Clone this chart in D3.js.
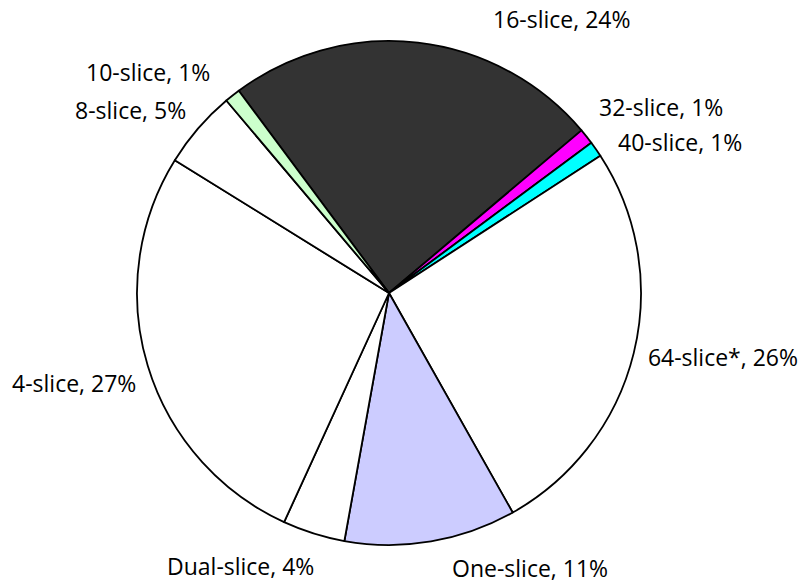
<!DOCTYPE html>
<html><head><meta charset="utf-8">
<script src="https://cdn.jsdelivr.net/npm/d3@7"></script>
<style>body{margin:0;background:#fff}svg{display:block}</style>
</head><body>
<svg id="chart" width="801" height="584"></svg>
<script>
const categories = ["16-slice","32-slice","40-slice","64-slice*","One-slice","Dual-slice","4-slice","8-slice","10-slice"];
const values = [24,1,1,26,11,4,27,5,1];
const colors = ["#333333","#FF00FF","#00FFFF","#FFFFFF","#CCCCFF","#FFFFFF","#FFFFFF","#FFFFFF","#CCFFCC"];
// label anchor positions (x, baseline y, anchor)
const labelPos = [[493,28,"start"],[599,116,"start"],[618,151,"start"],[798,366,"end"],[452,577,"start"],[167,575,"start"],[12,392,"start"],[75,119,"start"],[86,81,"start"]];

const svg = d3.select("#chart");
const cx = 389, cy = 293, r = 252;
const start = -36.6 * Math.PI/180;
const pie = d3.pie().sort(null).value(d=>d).startAngle(start).endAngle(start+2*Math.PI);
const arcs = pie(values);
const arc = d3.arc().innerRadius(0).outerRadius(r);
const g = svg.append("g").attr("transform",`translate(${cx},${cy})`);
g.selectAll("path").data(arcs).join("path")
  .attr("d",arc).attr("fill",(d,i)=>colors[i])
  .attr("stroke","#000").attr("stroke-width",1.8).attr("stroke-linejoin","round");
svg.selectAll("text.lbl").data(arcs).join("text").attr("class","lbl")
  .attr("x",(d,i)=>labelPos[i][0]).attr("y",(d,i)=>labelPos[i][1])
  .attr("text-anchor",(d,i)=>labelPos[i][2])
  .attr("font-family","'Open Sans', sans-serif").attr("font-size",23).attr("fill","#000")
  .text((d,i)=>`${categories[i]}, ${values[i]}%`);
</script>
</body></html>
